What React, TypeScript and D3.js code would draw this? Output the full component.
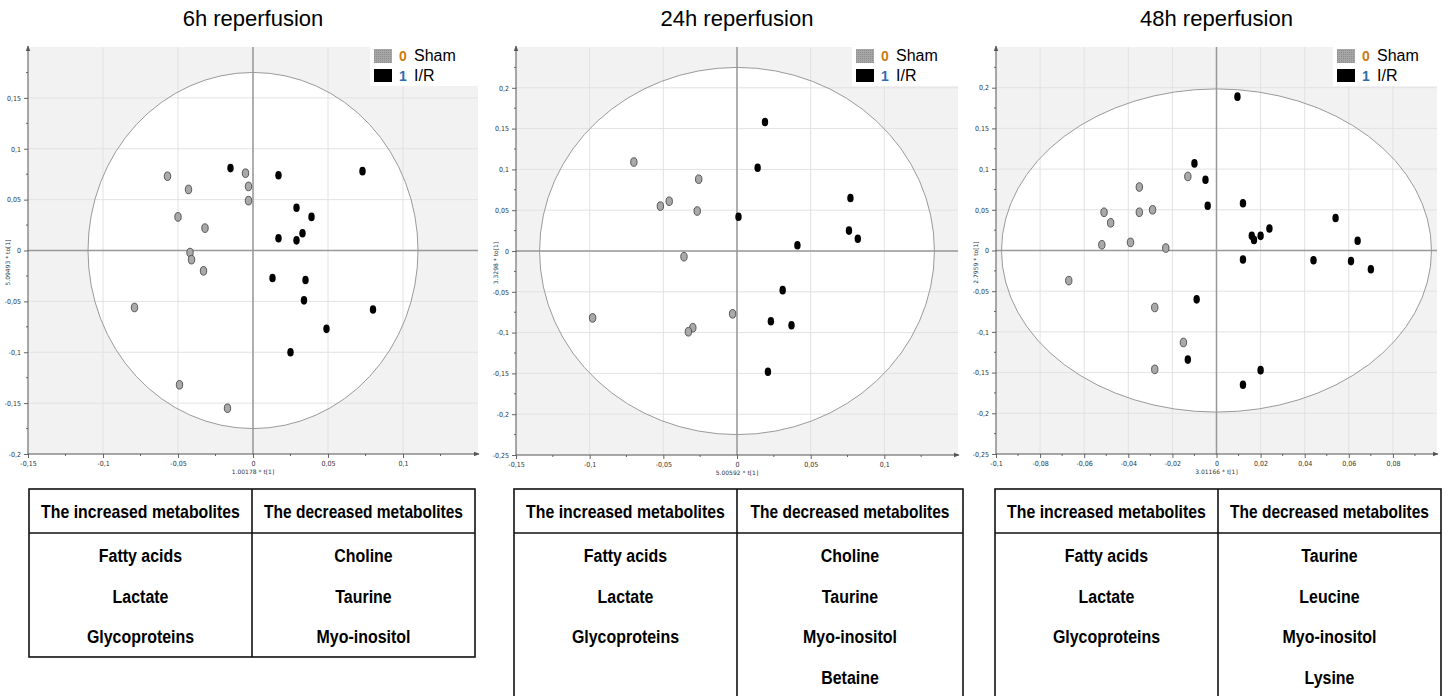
import { useRef, useEffect } from "react";
import * as d3 from "d3";

// panel titles and axis captions
const titles = ["6h reperfusion", "24h reperfusion", "48h reperfusion"];
const yCaptions = ["5.09493 * to[1]", "3.3298 * to[1]", "2.7959 * to[1]"];
const xCaptions = ["1.00178 * t[1]", "5.00592 * t[1]", "3.01166 * t[1]"];

// tick labels (values)
const xTicks6h = [-0.15, -0.1, -0.05, 0, 0.05, 0.1];
const yTicks6h = [-0.2, -0.15, -0.1, -0.05, 0, 0.05, 0.1, 0.15];
const xTicks24h = [-0.15, -0.1, -0.05, 0, 0.05, 0.1];
const yTicks24h = [-0.25, -0.2, -0.15, -0.1, -0.05, 0, 0.05, 0.1, 0.15, 0.2];
const xTicks48h = [-0.1, -0.08, -0.06, -0.04, -0.02, 0, 0.02, 0.04, 0.06, 0.08];
const yTicks48h = [-0.25, -0.2, -0.15, -0.1, -0.05, 0, 0.05, 0.1, 0.15, 0.2];

// scores [t1, to1]
const sham6h = [
  [-0.057, 0.073], [-0.043, 0.06], [-0.05, 0.033], [-0.032, 0.022],
  [-0.042, -0.002], [-0.041, -0.009], [-0.033, -0.02], [-0.079, -0.056],
  [-0.049, -0.132], [-0.017, -0.155], [-0.005, 0.076], [-0.003, 0.063],
  [-0.003, 0.049],
];
const ir6h = [
  [-0.015, 0.081], [0.017, 0.074], [0.073, 0.078], [0.029, 0.042],
  [0.039, 0.033], [0.033, 0.017], [0.017, 0.012], [0.029, 0.01],
  [0.013, -0.027], [0.035, -0.029], [0.034, -0.049], [0.08, -0.058],
  [0.049, -0.077], [0.025, -0.1],
];
const sham24h = [
  [-0.07, 0.109], [-0.026, 0.088], [-0.046, 0.061], [-0.052, 0.055],
  [-0.027, 0.049], [-0.036, -0.007], [-0.098, -0.082], [-0.03, -0.094],
  [-0.033, -0.099], [-0.003, -0.077],
];
const ir24h = [
  [0.019, 0.158], [0.014, 0.102], [0.001, 0.042], [0.077, 0.065],
  [0.076, 0.025], [0.082, 0.015], [0.041, 0.007], [0.031, -0.048],
  [0.023, -0.086], [0.037, -0.091], [0.021, -0.148],
];
const sham48h = [
  [-0.051, 0.047], [-0.048, 0.034], [-0.052, 0.007], [-0.035, 0.078],
  [-0.035, 0.047], [-0.029, 0.05], [-0.039, 0.01], [-0.023, 0.003],
  [-0.013, 0.091], [-0.067, -0.037], [-0.028, -0.07], [-0.015, -0.113],
  [-0.028, -0.146],
];
const ir48h = [
  [-0.01, 0.107], [-0.005, 0.087], [-0.004, 0.055], [-0.009, -0.06],
  [-0.013, -0.134], [0.0095, 0.189], [0.012, -0.011], [0.044, -0.012],
  [0.061, -0.013], [0.07, -0.023], [0.012, -0.165], [0.02, -0.147],
  [0.012, 0.058], [0.016, 0.018], [0.017, 0.013], [0.02, 0.018],
  [0.024, 0.027], [0.054, 0.04], [0.064, 0.012],
];

// Hotelling T2 ellipse radii [t1, to1]
const ellipses = [[0.11, 0.175], [0.134, 0.225], [0.0975, 0.1985]];

// table contents
const headers = ["The increased metabolites", "The decreased metabolites"];
const increased = [
  ["Fatty acids", "Lactate", "Glycoproteins"],
  ["Fatty acids", "Lactate", "Glycoproteins"],
  ["Fatty acids", "Lactate", "Glycoproteins"],
];
const decreased = [
  ["Choline", "Taurine", "Myo-inositol"],
  ["Choline", "Taurine", "Myo-inositol", "Betaine"],
  ["Taurine", "Leucine", "Myo-inositol", "Lysine"],
];

const comma = (v) => (v === 0 ? "0" : String(+v.toFixed(3)).replace(".", ","));

export default function App() {
  const ref = useRef();
  useEffect(() => {
    const svg = d3.select(ref.current);
    svg.selectAll("*").remove();

    const panels = [
      {
        box: [28, 47, 478, 454], xd: [-0.15, 0.15], yd: [-0.2, 0.2],
        xt: xTicks6h, yt: yTicks6h, sham: sham6h, ir: ir6h,
        legendX: 374, table: [29, 252, 475], bottom: 657,
      },
      {
        box: [516, 47, 958, 455], xd: [-0.15, 0.15], yd: [-0.25, 0.25],
        xt: xTicks24h, yt: yTicks24h, sham: sham24h, ir: ir24h,
        legendX: 856, table: [514, 737, 963], bottom: 720,
      },
      {
        box: [996, 47, 1437, 454], xd: [-0.1, 0.1], yd: [-0.25, 0.25],
        xt: xTicks48h, yt: yTicks48h, sham: sham48h, ir: ir48h,
        legendX: 1337, table: [995, 1218, 1441], bottom: 720,
      },
    ];

    const defs = svg.append("defs");
    const pat = defs
      .append("pattern")
      .attr("id", "shamPat")
      .attr("width", 2)
      .attr("height", 2)
      .attr("patternUnits", "userSpaceOnUse");
    pat.append("rect").attr("width", 2).attr("height", 2).attr("fill", "#a6a6a6");
    pat.append("rect").attr("width", 1).attr("height", 1).attr("fill", "#8c8c8c");
    defs
      .append("marker")
      .attr("id", "arrow")
      .attr("viewBox", "0 0 10 10")
      .attr("refX", 9)
      .attr("refY", 5)
      .attr("markerWidth", 6)
      .attr("markerHeight", 6)
      .attr("orient", "auto")
      .append("path")
      .attr("d", "M0,1L10,5L0,9Z")
      .attr("fill", "#555");

    // condensed bold text, squeezed horizontally like Arial Narrow
    const narrow = (sel, cx, y, str, size, target) => {
      const g = sel.append("g").attr("transform", `translate(${cx},${y})`);
      const t = g
        .append("text")
        .attr("text-anchor", "middle")
        .attr("font-family", "Liberation Sans, Arial, sans-serif")
        .attr("font-weight", "bold")
        .attr("font-size", size)
        .text(str);
      const w = t.node().getComputedTextLength();
      const k = target ? target / w : 0.84;
      g.attr("transform", `translate(${cx},${y}) scale(${k},1)`);
    };

    panels.forEach((p, i) => {
      const [x0, y0, x1, y1] = p.box;
      const x = d3.scaleLinear().domain(p.xd).range([x0, x1]);
      const y = d3.scaleLinear().domain(p.yd).range([y1, y0]);
      const g = svg.append("g");
      const cx = (x0 + x1) / 2;

      // title
      g.append("text")
        .attr("x", cx)
        .attr("y", 26)
        .attr("text-anchor", "middle")
        .attr("font-family", "Liberation Sans, Arial, sans-serif")
        .attr("font-size", 22)
        .text(titles[i]);

      // background + ellipse
      g.append("rect")
        .attr("x", x0)
        .attr("y", y0)
        .attr("width", x1 - x0)
        .attr("height", y1 - y0)
        .attr("fill", "#f2f2f2");
      const clipId = "clip" + i;
      defs
        .append("clipPath")
        .attr("id", clipId)
        .append("rect")
        .attr("x", x0)
        .attr("y", y0)
        .attr("width", x1 - x0)
        .attr("height", y1 - y0);
      const [ex, ey] = ellipses[i];
      g.append("ellipse")
        .attr("clip-path", `url(#${clipId})`)
        .attr("cx", x(0))
        .attr("cy", y(0))
        .attr("rx", x(ex) - x(0))
        .attr("ry", y(0) - y(ey))
        .attr("fill", "#fff");

      // grid
      const step = p.xt[1] - p.xt[0];
      const xGrid = d3.range(p.xd[0] + step, p.xd[1] - step / 2, step);
      g.selectAll(".vg")
        .data(xGrid)
        .join("line")
        .attr("x1", (d) => x(d))
        .attr("x2", (d) => x(d))
        .attr("y1", y0)
        .attr("y2", y1)
        .attr("stroke", "#e2e2e2");
      const yStep = p.yt[1] - p.yt[0];
      const yGrid = d3.range(p.yd[0] + yStep, p.yd[1] - yStep / 2, yStep);
      g.selectAll(".hg")
        .data(yGrid)
        .join("line")
        .attr("x1", x0)
        .attr("x2", x1)
        .attr("y1", (d) => y(d))
        .attr("y2", (d) => y(d))
        .attr("stroke", "#e2e2e2");

      g.append("ellipse")
        .attr("clip-path", `url(#${clipId})`)
        .attr("cx", x(0))
        .attr("cy", y(0))
        .attr("rx", x(ex) - x(0))
        .attr("ry", y(0) - y(ey))
        .attr("fill", "none")
        .attr("stroke", "#9a9a9a")
        .attr("stroke-width", 1);

      // zero lines
      g.append("line")
        .attr("x1", x(0)).attr("x2", x(0))
        .attr("y1", y0).attr("y2", y1)
        .attr("stroke", "#999").attr("stroke-width", 1.5);
      g.append("line")
        .attr("x1", x0).attr("x2", x1)
        .attr("y1", y(0)).attr("y2", y(0))
        .attr("stroke", "#999").attr("stroke-width", 1.5);

      // axes
      const xAxis = g
        .append("g")
        .attr("transform", `translate(0,${y1})`)
        .call(d3.axisBottom(x).tickValues(p.xt).tickFormat(comma).tickSize(4).tickPadding(3));
      const yAxis = g
        .append("g")
        .attr("transform", `translate(${x0},0)`)
        .call(d3.axisLeft(y).tickValues(p.yt).tickFormat(comma).tickSize(4).tickPadding(3));
      [xAxis, yAxis].forEach((a) => {
        a.select(".domain").remove();
        a.selectAll("line").attr("stroke", "#666");
        a.selectAll("text")
          .attr("font-size", 7)
          .attr("font-family", "DejaVu Sans Condensed, sans-serif")
          .attr("fill", "#333");
      });
      // minor ticks
      g.selectAll(".mx")
        .data(p.xt.map((d) => d + step / 2))
        .join("line")
        .attr("x1", (d) => x(d)).attr("x2", (d) => x(d))
        .attr("y1", y1).attr("y2", y1 + 2)
        .attr("stroke", "#666");
      g.selectAll(".my")
        .data(p.yt.map((d) => d + yStep / 2))
        .join("line")
        .attr("x1", x0 - 2).attr("x2", x0)
        .attr("y1", (d) => y(d)).attr("y2", (d) => y(d))
        .attr("stroke", "#666");
      g.append("line")
        .attr("x1", x0).attr("x2", x1 + 1)
        .attr("y1", y1).attr("y2", y1)
        .attr("stroke", "#555").attr("marker-end", "url(#arrow)");
      g.append("line")
        .attr("x1", x0).attr("x2", x0)
        .attr("y1", y1).attr("y2", y0 - 1)
        .attr("stroke", "#555").attr("marker-end", "url(#arrow)");

      // axis captions
      g.append("text")
        .attr("transform", `translate(${x0 - 18},${y(0) + 12}) rotate(-90)`)
        .attr("text-anchor", "middle")
        .attr("font-size", 6)
        .attr("font-family", "DejaVu Sans, sans-serif")
        .attr("fill", "#333")
        .text(yCaptions[i]);
      g.append("text")
        .attr("x", x(0))
        .attr("y", y1 + 20)
        .attr("text-anchor", "middle")
        .attr("font-size", 6)
        .attr("font-family", "DejaVu Sans, sans-serif")
        .attr("fill", "#333")
        .text(xCaptions[i]);

      // points
      g.selectAll(".sham")
        .data(p.sham)
        .join("ellipse")
        .attr("cx", (d) => x(d[0]))
        .attr("cy", (d) => y(d[1]))
        .attr("rx", 3.2)
        .attr("ry", 4.3)
        .attr("fill", "#a9a9a9")
        .attr("stroke", "#4a4a4a")
        .attr("stroke-width", 0.9);
      g.selectAll(".ir")
        .data(p.ir)
        .join("ellipse")
        .attr("cx", (d) => x(d[0]))
        .attr("cy", (d) => y(d[1]))
        .attr("rx", 3.2)
        .attr("ry", 4.3)
        .attr("fill", "#000");

      // legend
      const lg = g.append("g").attr("transform", `translate(${p.legendX},0)`);
      lg.append("rect")
        .attr("x", -4).attr("y", y0 - 1)
        .attr("width", x1 - p.legendX + 4).attr("height", 40)
        .attr("fill", "#fff");
      lg.append("rect").attr("x", 0).attr("y", 49).attr("width", 18).attr("height", 14).attr("fill", "url(#shamPat)");
      lg.append("rect").attr("x", 0).attr("y", 69).attr("width", 18).attr("height", 13).attr("fill", "#000");
      const legendItems = [
        { n: "0", c: "#d07a10", t: "Sham", y: 61 },
        { n: "1", c: "#2a6db0", t: "I/R", y: 81 },
      ];
      legendItems.forEach((it) => {
        lg.append("text")
          .attr("x", 25).attr("y", it.y)
          .attr("font-size", 14)
          .attr("font-weight", "bold")
          .attr("font-family", "Liberation Sans, Arial, sans-serif")
          .attr("fill", it.c)
          .text(it.n);
        lg.append("text")
          .attr("x", 40).attr("y", it.y)
          .attr("font-size", 16)
          .attr("font-family", "Liberation Sans, Arial, sans-serif")
          .attr("fill", "#000")
          .text(it.t);
      });

      // table
      const [tl, tm, tr] = p.table;
      const tb = svg.append("g");
      const top = 489, head = 533;
      tb.append("rect")
        .attr("x", tl).attr("y", top)
        .attr("width", tr - tl).attr("height", p.bottom - top)
        .attr("fill", "none").attr("stroke", "#111").attr("stroke-width", 1.6);
      tb.append("line").attr("x1", tl).attr("x2", tr).attr("y1", head).attr("y2", head)
        .attr("stroke", "#111").attr("stroke-width", 1.6);
      tb.append("line").attr("x1", tm).attr("x2", tm).attr("y1", top).attr("y2", p.bottom)
        .attr("stroke", "#111").attr("stroke-width", 1.6);
      [[tl, tm], [tm, tr]].forEach(([a, b], c) => {
        narrow(tb, (a + b) / 2, 518, headers[c], 18, 199);
        const rows = c === 0 ? increased[i] : decreased[i];
        rows.forEach((r, k) => narrow(tb, (a + b) / 2, 562 + k * 40.6, r, 19));
      });
    });
  }, []);
  return (
    <svg
      ref={ref}
      width={1448}
      height={696}
      style={{ position: "absolute", left: 0, top: 0, background: "#fff" }}
    />
  );
}
